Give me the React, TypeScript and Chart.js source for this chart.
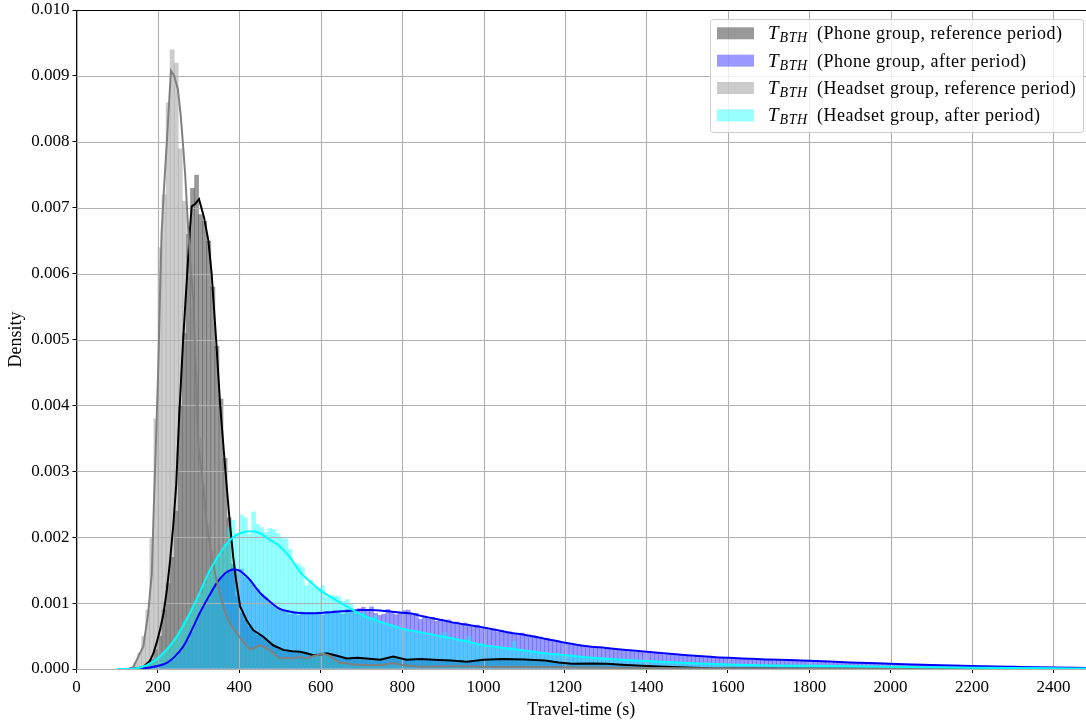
import React, { useEffect, useRef } from "react";
import { Chart, registerables } from "chart.js";
Chart.register(...registerables);

// Histogram bin width (s) and density unit (values below are in 1e-4 / s)
const BIN = 10;
const UNIT = 1e-4;

const xTicks = [0, 200, 400, 600, 800, 1000, 1200, 1400, 1600, 1800, 2000, 2200, 2400];
const yTicks = [0, 0.001, 0.002, 0.003, 0.004, 0.005, 0.006, 0.007, 0.008, 0.009, 0.01];

const legendLabels = [
  "(Phone group, reference period)",
  "(Phone group, after period)",
  "(Headset group, reference period)",
  "(Headset group, after period)",
];

// Phone group, reference period (first bin starts at 160 s)
const phoneRefStart = 160;
const phoneRefHist = [
  0.3, 0.8, 1.5, 3, 5, 9, 13, 17, 24, 40,
  51, 66, 73, 75, 69, 68, 65, 58, 49, 41,
  32, 23, 16, 11, 8.5, 7.5, 6.5, 5.8, 5.2, 5,
  4.6, 4.1, 3.6, 3.3, 3.0, 2.8, 2.6, 2.7, 2.5, 2.6,
  2.4, 2.2, 2.0, 2.2, 2.5, 2.4, 2.2, 2.0, 1.8, 1.7,
  1.6, 1.7, 1.6, 1.5, 1.6, 1.5, 1.5, 1.4, 1.4, 1.5,
  1.7, 1.9, 1.8, 1.6, 1.5, 1.4, 1.5, 1.3, 1.4, 1.5,
  1.4, 1.3, 1.4, 1.5, 1.3, 1.4, 1.3, 1.2, 1.4, 1.2,
  1.1, 1.2, 1.3, 1.4, 1.4, 1.5, 1.4, 1.5, 1.6, 1.4,
  1.5, 1.4, 1.5, 1.3, 1.4, 1.5, 1.3, 1.4, 1.3, 1.3,
  1.2, 1.1, 1.0, 0.9, 0.8, 0.8, 0.9, 0.8, 0.8, 0.7,
  0.8, 0.7, 0.8, 0.8, 0.7, 0.7, 0.6, 0.6, 0.5, 0.5,
  0.4, 0.4, 0.4, 0.3, 0.3, 0.3, 0.3, 0.2, 0.3, 0.2,
  0.2, 0.2, 0.2, 0.2, 0.1, 0.1, 0.1, 0.1, 0.1, 0.1,
  0.1, 0.1, 0.1, 0.1, 0.1, 0.1, 0.1, 0.05, 0.05, 0.05,
];

// Phone group, after period (first bin starts at 140 s)
const phoneAfterStart = 140;
const phoneAfterHist = [
  0.05, 0.1, 0.15, 0.2, 0.3, 0.4, 0.6, 0.8, 1.0, 1.4,
  1.9, 2.6, 3.4, 4.4, 5.6, 7.0, 8.3, 9.5, 10.6, 12.0,
  13.0, 14.0, 14.3, 15.0, 15.4, 14.9, 15.2, 14.0, 13.6, 12.8,
  12.1, 11.4, 10.9, 10.2, 9.6, 9.3, 8.9, 8.7, 8.4, 8.6,
  8.2, 8.7, 8.3, 8.6, 8.4, 8.7, 8.2, 8.8, 8.5, 8.9,
  8.6, 8.4, 9.1, 8.7, 8.6, 9.2, 9.4, 9.0, 9.5, 8.5,
  8.2, 8.4, 9.1, 8.6, 8.3, 8.5, 8.9, 9.0, 8.3, 8.5,
  7.6, 8.0, 7.7, 7.9, 7.3, 7.6, 7.2, 7.5, 7.0, 7.2,
  6.8, 7.0, 6.6, 6.4, 6.7, 6.2, 6.3, 5.9, 6.1, 5.7,
  5.9, 5.5, 5.7, 5.4, 5.2, 5.5, 5.0, 4.9, 5.1, 4.8,
  4.6, 4.7, 4.4, 4.2, 4.3, 4.0, 3.8, 3.9, 3.7, 3.5,
  3.6, 3.4, 3.3, 3.4, 3.2, 3.1, 3.3, 3.0, 2.9, 3.0,
  2.8, 2.7, 2.8, 2.6, 2.7, 2.5, 2.5, 2.4, 2.5, 2.3,
  2.2, 2.3, 2.2, 2.1, 2.2, 2.0, 2.0, 1.9, 2.0, 1.9,
  1.8, 2.0, 1.9, 1.8, 1.7, 1.8, 1.6, 1.7, 1.6, 1.5,
  1.6, 1.5, 1.4, 1.5, 1.4, 1.4, 1.4, 1.3, 1.4, 1.3,
  1.3, 1.2, 1.3, 1.2, 1.2, 1.2, 1.2, 1.1, 1.2, 1.1,
  1.1, 1.0, 1.1, 1.0, 1.0, 1.0, 1.0, 0.9, 1.0, 0.9,
  0.9, 0.8, 0.9, 0.8, 0.8, 0.8, 0.8, 0.7, 0.8, 0.7,
  0.7, 0.6, 0.7, 0.6, 0.6, 0.6, 0.6, 0.55, 0.6, 0.5,
  0.5, 0.5, 0.5, 0.45, 0.45, 0.45, 0.45, 0.4, 0.4, 0.4,
  0.38, 0.36, 0.36, 0.34, 0.33, 0.33, 0.33, 0.3, 0.3, 0.28,
  0.28, 0.26, 0.25, 0.24, 0.23, 0.22, 0.22, 0.2, 0.2, 0.18,
  0.18, 0.17, 0.16, 0.15,
];

// Headset group, reference period (first bin starts at 130 s)
const headsetRefStart = 130;
const headsetRefHist = [
  0.3, 1, 2.5, 5, 9, 20, 38, 64, 72, 86,
  94, 92, 79, 71, 62, 55, 45, 35, 28, 22,
  18, 14, 11, 9, 7.5, 6.5, 5.5, 4.5, 4, 3.2,
  3, 3.4, 3.6, 3.2, 2.8, 2.4, 2, 1.6, 1.6, 1.7,
  1.5, 1.5, 1.4, 1.5, 1.8, 2.2, 2.4, 2.4, 2.2, 1.8,
  1.3, 1.0, 0.9, 0.9, 0.8, 0.8, 0.7, 0.7, 0.6, 0.6,
  0.5, 0.6, 0.7, 0.8, 0.9, 0.8, 0.7, 0.5, 0.4, 0.4,
  0.4, 0.3, 0.4, 0.4, 0.3, 0.4, 0.4, 0.3, 0.4, 0.3,
  0.4, 0.4, 0.3, 0.4, 0.3, 0.4, 0.3, 0.4, 0.3, 0.3,
  0.4, 0.3, 0.3, 0.4, 0.3, 0.3, 0.3, 0.4, 0.3, 0.3,
  0.3, 0.3, 0.2, 0.3, 0.3, 0.2, 0.3, 0.2, 0.2, 0.3,
  0.2, 0.2, 0.2, 0.3, 0.2, 0.2, 0.2, 0.2, 0.2, 0.2,
  0.2, 0.1, 0.2, 0.2, 0.1, 0.2, 0.1, 0.1, 0.2, 0.1,
  0.1, 0.1, 0.1, 0.1, 0.1, 0.1, 0.1, 0.1, 0.1, 0.1,
];

// Headset group, after period (first bin starts at 140 s)
const headsetAfterStart = 140;
const headsetAfterHist = [
  0.1, 0.2, 0.4, 0.7, 1.0, 1.5, 2.0, 2.6, 3.3, 4.0,
  4.9, 6.0, 7.2, 8.0, 9.3, 10.5, 11.5, 13.0, 14.5, 15.5,
  16.8, 17.5, 19.0, 21.5, 22.6, 20.5, 23.4, 23.0, 20.5, 23.9,
  22.0, 21.5, 20.8, 21.4, 21.2, 20.6, 20.0, 19.8, 18.2, 16.0,
  16.0, 15.5, 12.7, 13.5, 12.5, 12.3, 12.7, 11.0, 11.2, 11.2,
  11.0, 10.3, 10.6, 10.0, 9.0, 8.5, 8.6, 7.9, 7.8, 8.1,
  7.3, 7.0, 6.8, 6.5, 6.6, 6.0, 6.2, 5.8, 5.5, 5.9,
  5.3, 5.5, 5.0, 5.4, 4.9, 5.2, 5.6, 4.9, 4.4, 4.6,
  4.2, 4.5, 5.0, 4.1, 3.7, 3.9, 3.5, 3.6, 3.3, 3.5,
  3.2, 3.1, 3.3, 4.2, 3.0, 2.7, 2.9, 2.5, 2.6, 2.4,
  2.6, 2.3, 2.2, 2.4, 2.0, 2.1, 2.0, 1.9, 2.0, 1.7,
  1.8, 1.7, 1.6, 1.7, 1.5, 1.6, 1.4, 1.5, 1.4, 1.3,
  1.4, 1.2, 1.3, 1.2, 1.1, 1.2, 1.2, 1.1, 1.1, 1.0,
  1.1, 1.0, 1.0, 0.9, 1.0, 0.9, 0.9, 0.9, 0.8, 0.9,
  0.8, 0.8, 0.8, 0.7, 0.8, 0.7, 0.7, 0.7, 0.7, 0.6,
  0.7, 0.6, 0.6, 0.6, 0.55, 0.6, 0.55, 0.5, 0.55, 0.5,
  0.5, 0.5, 0.5, 0.48, 0.5, 0.48, 0.47, 0.46, 0.47, 0.45,
  0.45, 0.45, 0.44, 0.43, 0.43, 0.42, 0.42, 0.41, 0.4, 0.4,
  0.39, 0.38, 0.37, 0.36, 0.35, 0.35, 0.34, 0.33, 0.32, 0.31,
  0.3, 0.3, 0.29, 0.28, 0.27, 0.27, 0.26, 0.25, 0.24, 0.23,
  0.22, 0.22, 0.21, 0.2, 0.2, 0.19, 0.18, 0.17, 0.17, 0.16,
  0.15, 0.15, 0.14, 0.14, 0.13, 0.13, 0.12, 0.12, 0.11, 0.11,
  0.1, 0.1, 0.1, 0.1, 0.1, 0.09, 0.09, 0.09, 0.08, 0.08,
  0.08, 0.08, 0.08, 0.08,
];

// Density estimate curves (x in s, y in 1e-4 / s)
const phoneRefKdeX = [100, 140, 164, 180, 189, 197, 205, 214, 222, 230, 238, 245, 252, 262, 272, 279, 283, 292, 301, 313, 324, 332, 343, 353, 362, 370, 377, 385, 392, 402, 418, 434, 459, 483, 508, 530, 549, 565, 582, 600, 615, 640, 664, 690, 713, 746, 778, 811, 845, 877, 920, 959, 1000, 1048, 1100, 1151, 1185, 1217, 1260, 1302, 1350, 1414, 1480, 1555, 1650, 1800, 2000, 2480];
const phoneRefKdeY = [0, 0, 0.3, 1.2, 2.4, 4, 5.9, 8.5, 12, 16.5, 22, 28, 38, 50, 60, 67, 70.2, 70.6, 71.3, 68.6, 65, 60, 50, 40, 33, 27, 22, 17, 13.5, 9.5, 7.4, 5.9, 4.9, 3.6, 2.9, 2.7, 2.6, 2.4, 2.1, 2.2, 2.4, 2.0, 1.6, 1.7, 1.6, 1.4, 1.9, 1.4, 1.5, 1.4, 1.3, 1.1, 1.4, 1.5, 1.45, 1.3, 1.0, 0.8, 0.85, 0.8, 0.6, 0.4, 0.25, 0.1, 0.06, 0.03, 0.02, 0];

const phoneAfterKdeX = [100, 140, 164, 190, 221, 240, 262, 280, 303, 325, 344, 360, 372, 385, 398, 410, 425, 440, 455, 470, 485, 500, 525, 549, 575, 600, 625, 650, 675, 700, 725, 750, 775, 800, 825, 850, 875, 900, 930, 960, 990, 1025, 1065, 1100, 1150, 1200, 1250, 1300, 1350, 1400, 1500, 1600, 1700, 1800, 1900, 2000, 2100, 2200, 2300, 2400, 2480];
const phoneAfterKdeY = [0, 0.05, 0.1, 0.35, 0.9, 1.8, 3.4, 5.5, 8.5, 11, 13, 14.2, 14.8, 15.1, 15.0, 14.5, 13.6, 12.4, 11.3, 10.5, 9.7, 9.1, 8.7, 8.5, 8.45, 8.5, 8.6, 8.75, 8.85, 8.95, 8.95, 8.85, 8.7, 8.55, 8.4, 8.0, 7.7, 7.4, 7.0, 6.7, 6.4, 6.0, 5.5, 5.2, 4.6, 4.0, 3.5, 3.2, 2.9, 2.6, 2.1, 1.7, 1.45, 1.25, 1.0, 0.8, 0.6, 0.45, 0.33, 0.22, 0.15];

const headsetRefKdeX = [100, 130, 140, 152, 164, 176, 185, 190, 195, 201, 205, 209, 215, 222, 232, 240, 249, 256, 262, 267, 275, 283, 287, 293, 299, 308, 320, 332, 344, 356, 369, 381, 394, 410, 422, 430, 440, 451, 463, 475, 488, 500, 515, 533, 550, 565, 585, 606, 623, 635, 647, 660, 680, 713, 750, 780, 800, 846, 900, 970, 1030, 1093, 1200, 1340, 1500, 1700, 2000, 2480];
const headsetRefKdeY = [0, 0.05, 0.3, 1.9, 3.4, 8.4, 14.5, 24.6, 34, 46, 56.5, 66, 73, 80, 90.8, 90, 88, 84, 79.3, 75, 66, 59, 56, 46, 34, 29.7, 22, 17, 13.5, 10.5, 7.9, 6.5, 5.4, 4.1, 3.2, 3.0, 3.3, 3.6, 3.3, 2.9, 2.2, 1.6, 1.7, 1.6, 1.9, 1.6, 2.0, 2.3, 2.0, 1.4, 0.9, 0.9, 0.7, 0.6, 0.6, 0.9, 0.6, 0.35, 0.4, 0.4, 0.3, 0.35, 0.25, 0.2, 0.1, 0.05, 0.02, 0];

const headsetAfterKdeX = [100, 140, 170, 205, 246, 287, 328, 350, 369, 385, 402, 426, 451, 475, 500, 525, 550, 575, 600, 625, 650, 675, 700, 725, 750, 775, 800, 850, 900, 950, 1000, 1050, 1100, 1150, 1200, 1250, 1300, 1350, 1400, 1500, 1600, 1700, 1800, 1900, 2000, 2100, 2200, 2300, 2400, 2480];
const headsetAfterKdeY = [0, 0.05, 0.5, 1.9, 4.9, 9.5, 15, 17.3, 19, 20, 20.6, 20.9, 20.6, 19.6, 18.6, 16.9, 14.7, 13.2, 11.9, 10.9, 10.0, 9.1, 8.2, 7.6, 7.1, 6.6, 6.1, 5.5, 4.9, 4.3, 3.6, 3.2, 2.8, 2.4, 2.1, 1.8, 1.55, 1.35, 1.2, 0.9, 0.7, 0.55, 0.48, 0.42, 0.35, 0.27, 0.2, 0.14, 0.1, 0.08];

const colPhoneRef = "rgba(0,0,0,0.4)";
const colPhoneAfter = "rgba(0,0,255,0.4)";
const colHeadsetRef = "rgba(128,128,128,0.4)";
const colHeadsetAfter = "rgba(0,255,255,0.4)";

const SERIF = "'Liberation Serif', 'Times New Roman', serif";

function toBars(start: number, vals: number[]) {
  return vals.map((v, i) => ({ x: start + i * BIN + BIN / 2, y: v * UNIT }));
}
function toLine(xs: number[], ys: number[]) {
  return xs.map((x, i) => ({ x, y: ys[i] * UNIT }));
}

const gridPlugin = {
  id: "midGrid",
  beforeDatasetsDraw(chart: any) {
    chart.$gridDone = false;
  },
  beforeDatasetDraw(chart: any, args: any) {
    if (chart.$gridDone || args.meta.type !== "line") return;
    chart.$gridDone = true;
    const { ctx, chartArea: a, scales } = chart;
    ctx.save();
    ctx.strokeStyle = "#b0b0b0";
    ctx.lineWidth = 1.1;
    ctx.beginPath();
    xTicks.forEach((t) => {
      const px = Math.round(scales.x.getPixelForValue(t)) + 0.5;
      ctx.moveTo(px, a.top);
      ctx.lineTo(px, a.bottom);
    });
    yTicks.forEach((t) => {
      const py = Math.round(scales.y.getPixelForValue(t)) + 0.5;
      ctx.moveTo(a.left, py);
      ctx.lineTo(a.right, py);
    });
    ctx.stroke();
    ctx.restore();
  },
};

const framePlugin = {
  id: "frameAndLegend",
  afterDraw(chart: any) {
    const { ctx, chartArea: a } = chart;
    ctx.save();
    ctx.strokeStyle = "#000";
    ctx.lineWidth = 1;
    ctx.beginPath();
    ctx.moveTo(a.left, Math.round(a.top) + 0.5);
    ctx.lineTo(a.right, Math.round(a.top) + 0.5);
    ctx.stroke();

    // legend
    const bx = 710.5, by = 19.5, bw = 373, bh = 113;
    ctx.beginPath();
    (ctx as any).roundRect(bx, by, bw, bh, 3);
    ctx.fillStyle = "rgba(255,255,255,0.8)";
    ctx.fill();
    ctx.strokeStyle = "#cccccc";
    ctx.stroke();
    const cols = [colPhoneRef, colPhoneAfter, colHeadsetRef, colHeadsetAfter];
    legendLabels.forEach((label, i) => {
      const cy = 33.3 + i * 27.35;
      ctx.fillStyle = cols[i];
      ctx.fillRect(717, cy - 6, 37, 12);
      const base = cy + 6;
      ctx.fillStyle = "#000";
      ctx.textBaseline = "alphabetic";
      ctx.textAlign = "left";
      (ctx as any).letterSpacing = "0px";
      ctx.font = `italic 19px ${SERIF}`;
      ctx.fillText("T", 768, base);
      const tw = ctx.measureText("T").width;
      ctx.font = `italic 14px ${SERIF}`;
      (ctx as any).letterSpacing = "0.6px";
      ctx.fillText("BTH", 768 + tw + 1, base + 3);
      ctx.font = `18px ${SERIF}`;
      (ctx as any).letterSpacing = "0.5px";
      ctx.fillText(label, 817, base);
    });
    ctx.restore();
  },
};

export default function App() {
  const ref = useRef<HTMLCanvasElement | null>(null);
  useEffect(() => {
    document.body.style.margin = "0";
    if (!ref.current) return;
    const barCommon = {
      type: "bar" as const,
      borderWidth: 0,
      barPercentage: 1.15,
      categoryPercentage: 1,
      grouped: false,
    };
    const lineCommon = {
      type: "line" as const,
      pointRadius: 0,
      borderWidth: 2,
      fill: false,
    };
    const chart = new Chart(ref.current, {
      type: "bar",
      data: {
        datasets: [
          { ...barCommon, label: "h1", data: toBars(phoneRefStart, phoneRefHist), backgroundColor: colPhoneRef, order: 8 },
          { ...barCommon, label: "h2", data: toBars(phoneAfterStart, phoneAfterHist), backgroundColor: colPhoneAfter, order: 7 },
          { ...barCommon, label: "h3", data: toBars(headsetRefStart, headsetRefHist), backgroundColor: colHeadsetRef, order: 6 },
          { ...barCommon, label: "h4", data: toBars(headsetAfterStart, headsetAfterHist), backgroundColor: colHeadsetAfter, order: 5 },
          { ...lineCommon, label: "k1", data: toLine(phoneRefKdeX, phoneRefKdeY), borderColor: "#000000", tension: 0, order: 4 },
          { ...lineCommon, label: "k2", data: toLine(phoneAfterKdeX, phoneAfterKdeY), borderColor: "#0000ff", cubicInterpolationMode: "monotone", order: 3 },
          { ...lineCommon, label: "k3", data: toLine(headsetRefKdeX, headsetRefKdeY), borderColor: "#808080", tension: 0, order: 2 },
          { ...lineCommon, label: "k4", data: toLine(headsetAfterKdeX, headsetAfterKdeY), borderColor: "#00ffff", cubicInterpolationMode: "monotone", order: 1 },
        ] as any,
      },
      options: {
        animation: false,
        responsive: false,
        maintainAspectRatio: false,
        devicePixelRatio: 1,
        layout: { padding: { top: 10, right: 0, left: 0, bottom: 0 } },
        plugins: { legend: { display: false }, tooltip: { enabled: false } },
        scales: {
          x: {
            type: "linear",
            min: 0,
            max: 2480,
            offset: false,
            afterBuildTicks: (s: any) => {
              s.ticks = xTicks.map((v) => ({ value: v }));
            },
            afterFit: (s: any) => {
              s.height = 53;
              s.paddingLeft = 0;
              s.paddingRight = 0;
            },
            ticks: {
              color: "#000",
              font: { family: SERIF, size: 17 },
              padding: 4,
              maxRotation: 0,
              autoSkip: false,
              callback: (v: any) => String(v),
            },
            grid: { color: "rgba(0,0,0,0)", tickColor: "#000", tickLength: 4, offset: false },
            border: { color: "#000", width: 1 },
            title: {
              display: true,
              text: "Travel-time (s)",
              color: "#000",
              font: { family: SERIF, size: 18, lineHeight: 1 },
              padding: { top: 0, bottom: 3 },
            },
          },
          y: {
            min: 0,
            max: 0.01,
            afterBuildTicks: (s: any) => {
              s.ticks = yTicks.map((v) => ({ value: v }));
            },
            afterFit: (s: any) => {
              s.width = 76.5;
              s.paddingTop = 0;
              s.paddingBottom = 0;
            },
            ticks: {
              color: "#000",
              font: { family: SERIF, size: 17 },
              padding: 3,
              callback: (v: any) => Number(v).toFixed(3),
            },
            grid: { color: "rgba(0,0,0,0)", tickColor: "#000", tickLength: 4 },
            border: { color: "#000", width: 1 },
            title: {
              display: true,
              text: "Density",
              color: "#000",
              font: { family: SERIF, size: 18, lineHeight: 1 },
              padding: { top: 7, bottom: 0 },
            },
          },
        },
      } as any,
      plugins: [gridPlugin, framePlugin],
    });
    return () => chart.destroy();
  }, []);
  return (
    <div style={{ width: 1086, height: 722 }}>
      <canvas ref={ref} width={1086} height={722} style={{ display: "block" }} />
    </div>
  );
}
